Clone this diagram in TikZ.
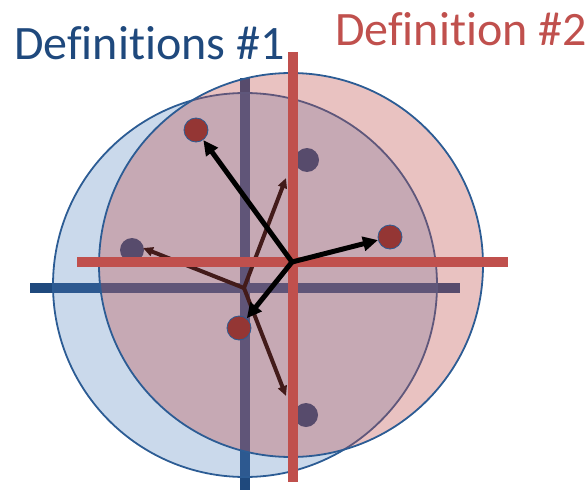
\documentclass[tikz,border=0pt]{standalone}
\usepackage{fontspec}
\setmainfont{Carlito}[Ligatures=NoCommon]
\usetikzlibrary{arrows.meta}
\definecolor{defblue}{HTML}{1F497D}
\definecolor{fillblue}{HTML}{4F81BD}
\definecolor{defred}{HTML}{C0504D}
\definecolor{dotred}{HTML}{943634}
\definecolor{rimblue}{HTML}{2C5C94}

\begin{document}
\begin{tikzpicture}[
      x=1pt, y=-1pt,
      axisblue/.style={defblue, line width=10pt},
      axisred/.style={defred, line width=10pt},
      rim/.style={rimblue, line width=1.8pt},
      dot/.style={circle, inner sep=0pt, minimum size=24pt},
      vec/.style={-{Triangle[length=15pt,width=14pt]}, line width=5pt},
      thinvec/.style={-{Triangle[length=10pt,width=9pt]}, line width=4pt},
      title/.style={font=\fontsize{48}{52}\selectfont, anchor=base west, inner sep=0pt}
    ]
      \useasboundingbox (0,0) rectangle (588,492);
      % titles
      \node[title, text=defblue] (def1) at (14,60) {Definitions \#1};
      \node[title, text=defred] (def2) at (335,46) {Definition \#2};

      % definition 1
      \draw[axisblue] (30,288) -- (460,288);
      \draw[axisblue] (245,78) -- (245,490);
      \fill[fillblue, fill opacity=0.3] (245,285) circle (192pt);
      \draw[rim] (245,285) circle (192pt);
      \node[dot, fill=defblue] (b1) at (307,160) {};
      \node[dot, fill=defblue] (b2) at (132,250) {};
      \node[dot, fill=defblue] (b3) at (306,415) {};
      \coordinate (o1) at (244,288);
      \coordinate (t1) at (286,178);
      \coordinate (t2) at (143,248);
      \coordinate (t3) at (286,396);
      \draw[thinvec] (o1) -- (t1);
      \draw[thinvec] (o1) -- (t2);
      \draw[thinvec] (o1) -- (t3);

      % definition 2
      \fill[defred, fill opacity=0.35] (291,265) circle (192pt);
      \draw[rim] (291,265) circle (192pt);
      \draw[axisred] (77,262) -- (508,262);
      \draw[axisred] (293,52) -- (293,482);
      \node[dot, fill=dotred, draw=rimblue, line width=0.8pt] (r1) at (196,130) {};
      \node[dot, fill=dotred, draw=rimblue, line width=0.8pt] (r2) at (390,237) {};
      \node[dot, fill=dotred, draw=rimblue, line width=0.8pt] (r3) at (239,328) {};
      \coordinate (o2) at (292,262);
      \draw[vec] (o2) -- (r1);
      \draw[vec] (o2) -- (r2);
      \draw[vec] (o2) -- (r3);
    \end{tikzpicture}
\end{document}
